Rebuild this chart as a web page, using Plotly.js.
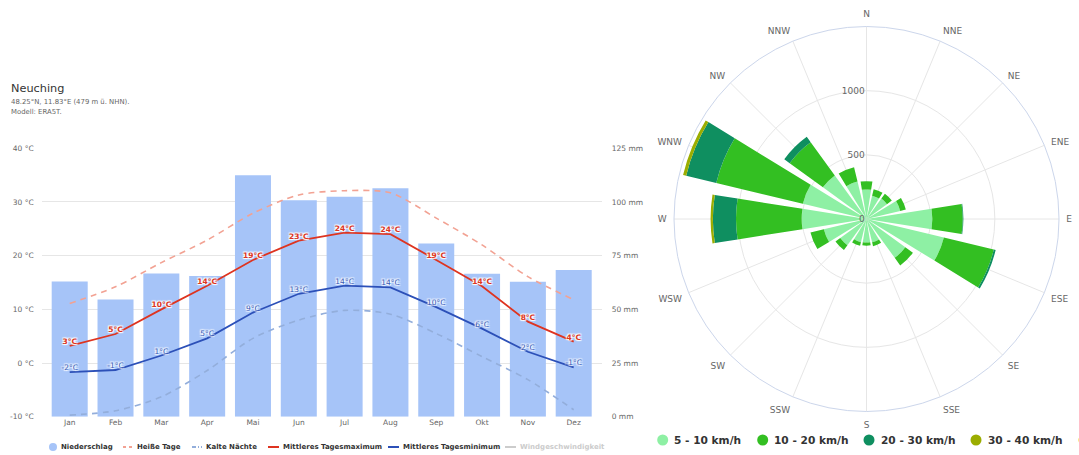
<!DOCTYPE html>
<html>
<head>
<meta charset="utf-8">
<script src="https://cdn.plot.ly/plotly-3.0.1.min.js"></script>
<style>html,body{margin:0;padding:0;background:#fff;}#chart{width:1079px;height:455px;}</style>
</head>
<body>
<div id="chart"></div>
<script>
// ---- Climate data (Neuching) ----
const months = ['Jan','Feb','Mar','Apr','Mai','Jun','Jul','Aug','Sep','Okt','Nov','Dez'];
const precipitation = [63, 54.6, 66.7, 65.5, 112.5, 100.8, 102.4, 106.4, 80.7, 66.6, 62.8, 68.3];
const meanMax = [3.2, 5.4, 10.0, 14.4, 19.2, 22.8, 24.3, 24.0, 19.2, 14.3, 7.7, 4.0];
const meanMin = [-1.7, -1.3, 1.4, 4.6, 9.4, 12.9, 14.4, 14.1, 10.4, 6.4, 2.1, -0.8];
const hotDays = [11.1, 14.2, 18.7, 22.9, 27.9, 31.3, 32.1, 31.7, 27.0, 22.0, 16.1, 11.8];
const coldNights = [-9.7, -8.9, -6.3, -1.4, 4.6, 8.0, 9.8, 9.1, 5.5, 1.2, -3.1, -8.7];
const tempTicks = [-10, 0, 10, 20, 30, 40];
const tempTickLabels = ['-10 °C', '0 °C', '10 °C', '20 °C', '30 °C', '40 °C'];
const precipTicks = [0, 25, 50, 75, 100, 125];
const precipTickLabels = ['0 mm', '25 mm', '50 mm', '75 mm', '100 mm', '125 mm'];

// ---- Wind rose data ----
const directions = ['N','NNE','NE','ENE','E','ESE','SE','SSE','S','SSW','SW','WSW','W','WNW','NW','NNW'];
const wind5to10 =  [230, 187, 197, 270, 513, 620, 374, 187, 184, 186, 253, 342, 505, 510, 420, 300];
const wind10to20 = [65, 52, 47, 45, 237, 400, 73, 31, 24, 28, 46, 107, 512, 694, 320, 115];
const wind20to30 = [0, 0, 0, 0, 5, 15, 0, 0, 0, 0, 0, 0, 180, 241, 52, 0];
const wind30to40 = [0, 0, 0, 0, 0, 0, 0, 0, 0, 0, 0, 0, 18, 25, 0, 0];
const windTicks = [0, 500, 1000];
const windClasses = ['5 - 10 km/h', '10 - 20 km/h', '20 - 30 km/h', '30 - 40 km/h'];

const W = 1079, H = 455;
const P = x => x / W;
const Q = y => 1 - y / H;
const FONT = 'DejaVu Sans';
const fmt = v => Math.round(v) + '°C';
const HALO = '1px 1px 1px #fff, -1px -1px 1px #fff, 1px -1px 1px #fff, -1px 1px 1px #fff';

const COL = {
  bar: '#a6c4f8', max: '#de3420', min: '#2c50b8', hot: '#f2a293', cold: '#93aedb',
  w1: '#8ef0a4', w2: '#33bf22', w3: '#0f8f60', w4: '#9bad00', w5: '#f2cf00'
};

const traces = [
  {type:'bar', x: months, y: precipitation, xaxis:'x', yaxis:'y', marker:{color: COL.bar}, hoverinfo:'none', name:'Niederschlag'},
  {type:'scatter', mode:'lines', x: months, y: hotDays, xaxis:'x', yaxis:'y2', name:'Heiße Tage',
   line:{color: COL.hot, width:1.6, dash:'6px,5px', shape:'spline', smoothing:0.8}, hoverinfo:'none'},
  {type:'scatter', mode:'lines', x: months, y: coldNights, xaxis:'x', yaxis:'y2', name:'Kalte Nächte',
   line:{color: COL.cold, width:1.6, dash:'6px,5px', shape:'spline', smoothing:0.8}, hoverinfo:'none'},
  {type:'scatter', mode:'lines+text', x: months, y: meanMax, xaxis:'x', yaxis:'y2', name:'Mittleres Tagesmaximum',
   line:{color: COL.max, width:1.8}, text: meanMax.map(fmt), textposition:'top center',
   textfont:{family: FONT, size:7.5, color: COL.max, weight:'bold', shadow: HALO}, hoverinfo:'none'},
  {type:'scatter', mode:'lines+text', x: months, y: meanMin, xaxis:'x', yaxis:'y2', name:'Mittleres Tagesminimum',
   line:{color: COL.min, width:1.8}, text: meanMin.map(fmt), textposition:'top center',
   textfont:{family: FONT, size:7.5, color: '#3a5bb5', shadow: HALO}, hoverinfo:'none'},
];

const windSeries = [wind5to10, wind10to20, wind20to30, wind30to40];
const windCols = [COL.w1, COL.w2, COL.w3, COL.w4];
windSeries.forEach((s, i) => {
  traces.push({type:'barpolar', r: s, theta: directions, name: windClasses[i], subplot:'polar',
    marker:{color: windCols[i], line:{width:0}}, hoverinfo:'none'});
});

// ---- legends (shapes + annotations) ----
const shapes = [];
const annotations = [];
function legendText(x, y, text, size, color, bold) {
  annotations.push({xref:'paper', yref:'paper', x: P(x), y: Q(y), xanchor:'left', yanchor:'middle',
    text: bold ? '<b>' + text + '</b>' : text, showarrow:false, borderpad:0,
    font:{family: FONT, size: size, color: color}});
}
function circle(cx, cy, r, color) {
  shapes.push({type:'circle', xref:'paper', yref:'paper', x0:P(cx - r), x1:P(cx + r), y0:Q(cy + r), y1:Q(cy - r),
    fillcolor: color, line:{width:0}});
}
function seg(x0, x1, y, color, dash) {
  shapes.push({type:'line', xref:'paper', yref:'paper', x0:P(x0), x1:P(x1), y0:Q(y), y1:Q(y),
    line:{color: color, width:2, dash: dash || 'solid'}});
}
const ly = 447;
circle(53, ly, 4, COL.bar); legendText(60, ly, 'Niederschlag', 7, '#333', true);
seg(123, 133, ly, COL.hot, '3px,3px'); legendText(136, ly, 'Heiße Tage', 7, '#333', true);
seg(192, 202, ly, COL.cold, '4px,2px,1px,2px'); legendText(205, ly, 'Kalte Nächte', 7, '#333', true);
seg(268, 279, ly, COL.max); legendText(282, ly, 'Mittleres Tagesmaximum', 7, '#333', true);
seg(388, 399, ly, COL.min); legendText(402, ly, 'Mittleres Tagesminimum', 7, '#333', true);
seg(505, 516, ly, '#cccccc'); legendText(519, ly, 'Windgeschwindigkeit', 7, '#cccccc', true);

const wy = 440;
const wcx = [662.7, 762.7, 869, 976];
windClasses.forEach((t, i) => { circle(wcx[i], wy, 5.5, windCols[i]); legendText(wcx[i] + 10.5, wy, t, 10.6, '#333', true); });
circle(1084, wy, 5.5, COL.w5);

// titles
annotations.push({xref:'paper', yref:'paper', x:P(9), y:Q(89), xanchor:'left', yanchor:'middle', showarrow:false,
  text:'Neuching', font:{family: FONT, size:11.3, color:'#333'}});
annotations.push({xref:'paper', yref:'paper', x:P(9), y:Q(102), xanchor:'left', yanchor:'middle', showarrow:false,
  text:'48.25°N, 11.83°E (479 m ü. NHN).', font:{family: FONT, size:6.9, color:'#666'}});
annotations.push({xref:'paper', yref:'paper', x:P(9), y:Q(111.5), xanchor:'left', yanchor:'middle', showarrow:false,
  text:'Modell: ERA5T.', font:{family: FONT, size:6.9, color:'#666'}});

const layout = {
  width: W, height: H, margin:{l:0, r:0, t:0, b:0}, paper_bgcolor:'#fff', plot_bgcolor:'#fff',
  showlegend:false, bargap: 0.214, font:{family: FONT},
  xaxis:{domain:[P(41.7), P(601.7)], type:'category', showgrid:false, zeroline:false, showline:false, ticks:'',
    tickfont:{family: FONT, size:7.5, color:'#666'}, fixedrange:true},
  yaxis:{domain:[Q(416.7), Q(148.3)], range:[0,125], side:'right', tickvals: precipTicks, ticktext: precipTickLabels,
    gridcolor:'#e6e6e6', gridwidth:1, zeroline:false, showline:false, ticks:'', ticklabelstandoff:9,
    tickfont:{family: FONT, size:7.5, color:'#666'}, fixedrange:true},
  yaxis2:{overlaying:'y', side:'left', range:[-10,40], tickvals: tempTicks, ticktext: tempTickLabels,
    showgrid:false, zeroline:false, showline:false, ticks:'', ticklabelstandoff:7,
    tickfont:{family: FONT, size:7.5, color:'#666'}, fixedrange:true},
  polar:{
    domain:{x:[P(674), P(1059)], y:[Q(411.5), Q(26.5)]}, bgcolor:'#fff', barmode:'stack', bargap:0.2,
    angularaxis:{type:'category', categoryarray: directions, rotation:90, direction:'clockwise',
      showline:true, linecolor:'#ccd6eb', linewidth:1, gridcolor:'#e6e6e6', ticks:'outside', ticklen:5,
      tickcolor:'rgba(0,0,0,0)', tickfont:{family: FONT, size:9, color:'#666'}},
    radialaxis:{range:[0,1500], tickvals: windTicks, ticktext: windTicks.map(String), showline:false, ticks:'',
      gridcolor:'#e6e6e6', angle:90, tickangle:90, side:'counterclockwise',
      tickfont:{family: FONT, size:9, color:'#666'}}
  },
  shapes: shapes, annotations: annotations
};

Plotly.newPlot('chart', traces, layout, {staticPlot:true, displayModeBar:false});
</script>
</body>
</html>
